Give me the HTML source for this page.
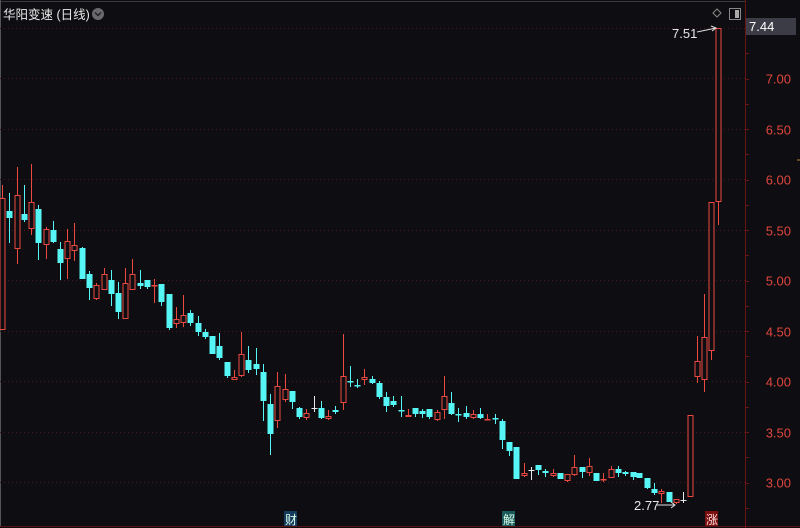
<!DOCTYPE html>
<html><head><meta charset="utf-8"><style>
html,body{margin:0;padding:0;background:#0e0e12;}
#c{position:relative;width:800px;height:528px;overflow:hidden;background:#0e0e12;font-family:"Liberation Sans","Noto Sans CJK SC",sans-serif;}
</style></head><body><div id="c">
<svg id="s" width="800" height="528" xmlns="http://www.w3.org/2000/svg" style="position:absolute;left:0;top:0">
<line x1="0" y1="1.5" x2="745" y2="1.5" stroke="#3a3a3e" stroke-width="1"/>
<line x1="0.5" y1="0" x2="0.5" y2="526" stroke="#555" stroke-width="1"/>
<line x1="0" y1="526.5" x2="800" y2="526.5" stroke="#5a1010" stroke-width="1"/>
<line x1="745.5" y1="0" x2="745.5" y2="528" stroke="#6a1414" stroke-width="1"/>
<g id="grid" stroke="#4e1616" stroke-width="1" stroke-dasharray="1,3"></g>
<g id="ticks" stroke="#6a1414"></g>
<g id="cand"></g>
<g font-size="13" fill="#e0463e" text-anchor="end" id="lbl"></g>
<rect x="746" y="18" width="50" height="17" fill="#3c3c46"/>
<text x="749" y="31" font-size="13" fill="#ffffff">7.44</text>
<text x="3" y="19" font-size="12.5" fill="#e8e8e8">华阳变速 (日线)</text>
<circle cx="98" cy="14" r="6" fill="#6a6a6e"/>
<path d="M95 12.5 L98 15.5 L101 12.5" stroke="#222" stroke-width="1.5" fill="none"/>
<path d="M717 9 L721 13 L717 17 L713 13Z" stroke="#888" fill="none"/>
<rect x="729.5" y="8.5" width="11" height="11" stroke="#888" fill="none"/>
<rect x="735" y="10" width="4" height="8" fill="#aaa"/>
<text x="672" y="38" font-size="13" fill="#e8e8e8">7.51</text>
<path d="M697 32 L716 28 M711 26 L716 28 L712 31" stroke="#ddd" fill="none"/>
<text x="634" y="510" font-size="13" fill="#e8e8e8">2.77</text>
<path d="M657 505 L675 505 M671 502 L675 505 L671 508" stroke="#ddd" fill="none"/>
<rect x="284" y="511" width="13" height="15" fill="#143a5c"/>
<text x="285" y="524" font-size="12" fill="#dfe">财</text>
<rect x="502" y="511" width="13" height="15" fill="#1a5a5a"/>
<text x="503" y="524" font-size="12" fill="#dfe">解</text>
<rect x="705" y="511" width="13" height="15" fill="#7a1010"/>
<text x="706" y="524" font-size="12" fill="#fdd">涨</text>
<line x1="797" y1="160" x2="800" y2="160" stroke="#c08030"/>
</svg>
<script>
var ns="http://www.w3.org/2000/svg";
function el(p,t,a){var e=document.createElementNS(ns,t);for(var k in a)e.setAttribute(k,a[k]);p.appendChild(e);return e;}
var g=document.getElementById('grid'),lb=document.getElementById('lbl'),tk=document.getElementById('ticks');
function Y(p){return 78+(7-p)*101;}
for(var p=3;p<=7.51;p+=0.5){var y=Math.round(Y(p))+0.5;el(g,'line',{x1:0,y1:y,x2:745,y2:y});
 if(p<7.4){var t=el(lb,'text',{x:791,y:y+5});t.textContent=p.toFixed(2);}}
for(var y=28;y<526;y+=25.25){el(tk,'line',{x1:745,y1:Math.round(y)+0.5,x2:749,y2:Math.round(y)+0.5});}
var D=[[2,198,330,185,330,'r'],[9,211,218,193,243,'c'],[17,195,249,167,264,'r'],[24,214,220,185,222,'c'],[31,202,229,164,235,'r'],[38,209,243,205,260,'c'],[46,229,245,227,259,'r'],[53,230,242,221,243,'c'],[60,249,263,242,280,'c'],[67,241,259,229,279,'r'],[74,245,251,223,261,'r'],[82,248,279,247,279,'c'],[89,274,288,271,300,'c'],[96,285,299,283,300,'r'],[104,274,290,268,290,'r'],[111,280,294,270,306,'c'],[118,293,312,282,319,'c'],[125,283,319,268,319,'r'],[132,274,290,259,290,'r'],[140,283,286,270,289,'c'],[147,280,287,280,289,'c'],[154,285,285,279,303,'r'],[161,284,302,284,306,'c'],[169,294,328,294,330,'c'],[176,319,324,307,328,'r'],[183,315,323,295,327,'r'],[190,313,323,310,326,'c'],[198,323,332,316,336,'c'],[205,332,337,329,339,'c'],[212,336,354,336,354,'c'],[219,346,358,333,360,'c'],[227,362,376,362,378,'c'],[234,377,380,370,380,'r'],[241,354,376,332,377,'r'],[248,360,370,346,373,'c'],[256,364,369,348,375,'c'],[263,372,401,364,421,'c'],[270,404,434,394,455,'c'],[277,386,421,372,428,'r'],[285,389,400,374,402,'r'],[292,391,402,391,409,'c'],[299,408,417,407,419,'c'],[306,413,418,409,420,'r'],[314,408,408,396,412,'w'],[321,408,418,401,419,'c'],[328,416,419,410,420,'r'],[335,410,412,406,414,'c'],[343,376,403,334,410,'r'],[350,381,382,366,387,'c'],[357,385,386,379,388,'c'],[364,377,380,369,385,'r'],[372,379,383,376,384,'c'],[379,383,397,381,399,'c'],[386,397,406,392,412,'c'],[393,401,405,396,407,'c'],[401,410,411,396,417,'c'],[408,415,417,409,417,'r'],[415,408,414,408,417,'c'],[422,411,414,409,418,'c'],[429,409,417,409,419,'c'],[437,412,420,410,421,'r'],[444,396,410,376,419,'r'],[451,403,414,392,415,'c'],[458,414,415,408,422,'c'],[466,413,417,406,419,'c'],[473,414,418,410,419,'r'],[480,414,418,408,419,'c'],[487,419,420,414,420,'r'],[495,418,419,414,424,'c'],[502,421,440,419,449,'c'],[509,442,451,442,456,'c'],[516,447,479,447,479,'c'],[524,473,476,463,477,'r'],[531,470,470,467,480,'w'],[538,465,470,465,475,'c'],[545,471,473,469,477,'c'],[553,473,476,469,477,'r'],[560,473,479,473,479,'c'],[567,474,481,474,482,'r'],[574,467,475,455,476,'r'],[582,467,472,467,478,'c'],[589,466,473,458,476,'r'],[596,473,481,473,481,'c'],[603,479,479,473,482,'r'],[611,469,478,466,478,'r'],[618,469,473,466,477,'c'],[625,472,474,471,476,'c'],[633,472,477,472,480,'c'],[639,473,478,473,478,'c'],[647,478,488,478,489,'c'],[654,489,493,483,495,'c'],[661,491,494,489,503,'r'],[669,492,502,492,502,'c'],[676,499,503,499,504,'r'],[683,500,500,492,503,'w'],[690,415,497,415,497,'r'],[697,361,377,336,383,'r'],[704,337,380,294,392,'r'],[711,202,351,202,360,'r'],[718,28,202,28,225,'r']];
var cg=document.getElementById('cand');
D.forEach(function(d){var x=d[0],col=d[5]=='r'?'#ec4a40':(d[5]=='c'?'#56f6f6':'#e8e8e8');
 el(cg,'line',{x1:x+0.5,y1:d[3],x2:x+0.5,y2:d[4],stroke:col,'stroke-width':1});
 var h=d[2]-d[1];
 if(d[5]=='r'){ if(h<2){el(cg,'rect',{x:x-2.5,y:d[1],width:6,height:1.5,fill:col});}
   else el(cg,'rect',{x:x-2,y:d[1]+0.5,width:5,height:h-1,fill:'#0e0e12',stroke:col,'stroke-width':1});}
 else if(d[5]=='c'){el(cg,'rect',{x:x-2.5,y:d[1],width:6,height:Math.max(h,1.5),fill:col});}
 else el(cg,'rect',{x:x-2.5,y:d[1],width:6,height:1,fill:col});
});
</script>
</div></body></html>
